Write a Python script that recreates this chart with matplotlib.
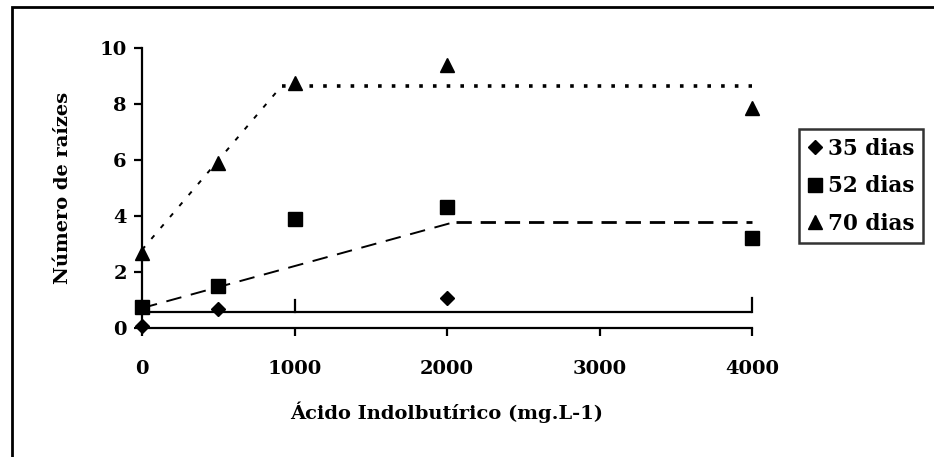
import matplotlib
matplotlib.use("Agg")
import matplotlib.pyplot as plt
from matplotlib.lines import Line2D
from matplotlib.patches import Rectangle

# ---- data ----
doses_35 = [0, 500, 2000]
raizes_35 = [0.07, 0.68, 1.07]
doses_52 = [0, 500, 1000, 2000, 4000]
raizes_52 = [0.73, 1.49, 3.87, 4.32, 3.20]
doses_70 = [0, 500, 1000, 2000, 4000]
raizes_70 = [2.68, 5.87, 8.75, 9.40, 7.84]

# fitted (linear-plateau) trend lines
trend_35_x = [0, 4000]
trend_35_y = [0.57, 0.57]
trend_35_bar_x = [1000, 4000]
trend_35_bar_top = [1.00, 1.07]
trend_52_x = [0, 2060, 4000]
trend_52_y = [0.70, 3.79, 3.79]
trend_70_x = [0, 915, 4000]
trend_70_y = [2.78, 8.63, 8.63]

series_labels = ["35 dias", "52 dias", "70 dias"]
x_ticks = [0, 1000, 2000, 3000, 4000]
y_ticks = [0, 2, 4, 6, 8, 10]
x_label = "Ácido Indolbutírico (mg.L-1)"
y_label = "Número de raízes"

FONT = "DejaVu Serif"
plt.rcParams["font.family"] = [FONT, "DejaVu Sans"]
plt.rcParams["font.weight"] = "bold"

fig = plt.figure(figsize=(9.34, 4.57), dpi=100)
ax = fig.add_axes([142 / 934, 1 - 327.7 / 457, (752 - 142) / 934, (327.7 - 47.7) / 457])

# trend lines
ax.plot(trend_35_x, trend_35_y, color="black", lw=1.6, solid_capstyle="butt", clip_on=False)
for bx, bt in zip(trend_35_bar_x, trend_35_bar_top):
    ax.plot([bx, bx], [trend_35_y[0], bt], color="black", lw=1.6, clip_on=False)
# 52 dias: sloped part thinner, plateau thicker
ax.plot(trend_52_x[:2], trend_52_y[:2], color="black", lw=1.4, dashes=(8, 5), clip_on=False)
ax.plot(trend_52_x[1:], trend_52_y[1:], color="black", lw=2.0, dashes=(5.5, 3.2), clip_on=False)
# 70 dias: sloped part thinner, plateau thicker dots
ax.plot(trend_70_x[:2], trend_70_y[:2], color="black", lw=1.4, dashes=(2.4, 5.0), clip_on=False)
ax.plot(trend_70_x[1:], trend_70_y[1:], color="black", lw=2.6, dashes=(1.0, 2.8), clip_on=False)

# markers
ax.plot(doses_35, raizes_35, "D", color="black", ms=7, ls="none", clip_on=False, zorder=5)
ax.plot(doses_52, raizes_52, "s", color="black", ms=10, ls="none", clip_on=False, zorder=5)
ax.plot(doses_70, raizes_70, "^", color="black", ms=10, ls="none", clip_on=False, zorder=5)

ax.set_xlim(0, 4000)
ax.set_ylim(0, 10)
ax.set_xticks(x_ticks)
ax.set_yticks(y_ticks)
ax.set_xticklabels([str(v) for v in x_ticks], fontsize=14, fontweight="bold")
ax.set_yticklabels([str(v) for v in y_ticks], fontsize=14, fontweight="bold")
ax.tick_params(axis="both", direction="out", length=6, width=1.6, color="black")
ax.tick_params(axis="x", pad=17)
ax.tick_params(axis="y", pad=5)
for side in ["top", "right"]:
    ax.spines[side].set_visible(False)
for side in ["left", "bottom"]:
    ax.spines[side].set_linewidth(1.6)
ax.patch.set_alpha(0)

ax.set_xlabel(x_label, fontsize=14, fontweight="bold", labelpad=17)
ax.set_ylabel(y_label, fontsize=14, fontweight="bold", labelpad=20)

handles = [
    Line2D([], [], marker="D", color="black", ls="none", ms=7),
    Line2D([], [], marker="s", color="black", ls="none", ms=10),
    Line2D([], [], marker="^", color="black", ls="none", ms=10),
]
leg = fig.legend(handles, series_labels, loc="upper left",
                 bbox_to_anchor=(799 / 934, 1 - 129 / 457),
                 frameon=True, fancybox=False, edgecolor="black",
                 prop={"family": FONT, "weight": "bold", "size": 15.5},
                 handlelength=0.7, handletextpad=0.25, borderpad=0.4,
                 labelspacing=0.72, borderaxespad=0)
leg.get_frame().set_linewidth(1.8)

# outer chart border (left and top visible)
fig.patches.append(Rectangle((12 / 934, -0.5), 2.0, (1 - 7 / 457) + 0.5,
                             transform=fig.transFigure, fill=False,
                             edgecolor="black", linewidth=2.0, zorder=-1))

fig.savefig("out.png", dpi=100)
